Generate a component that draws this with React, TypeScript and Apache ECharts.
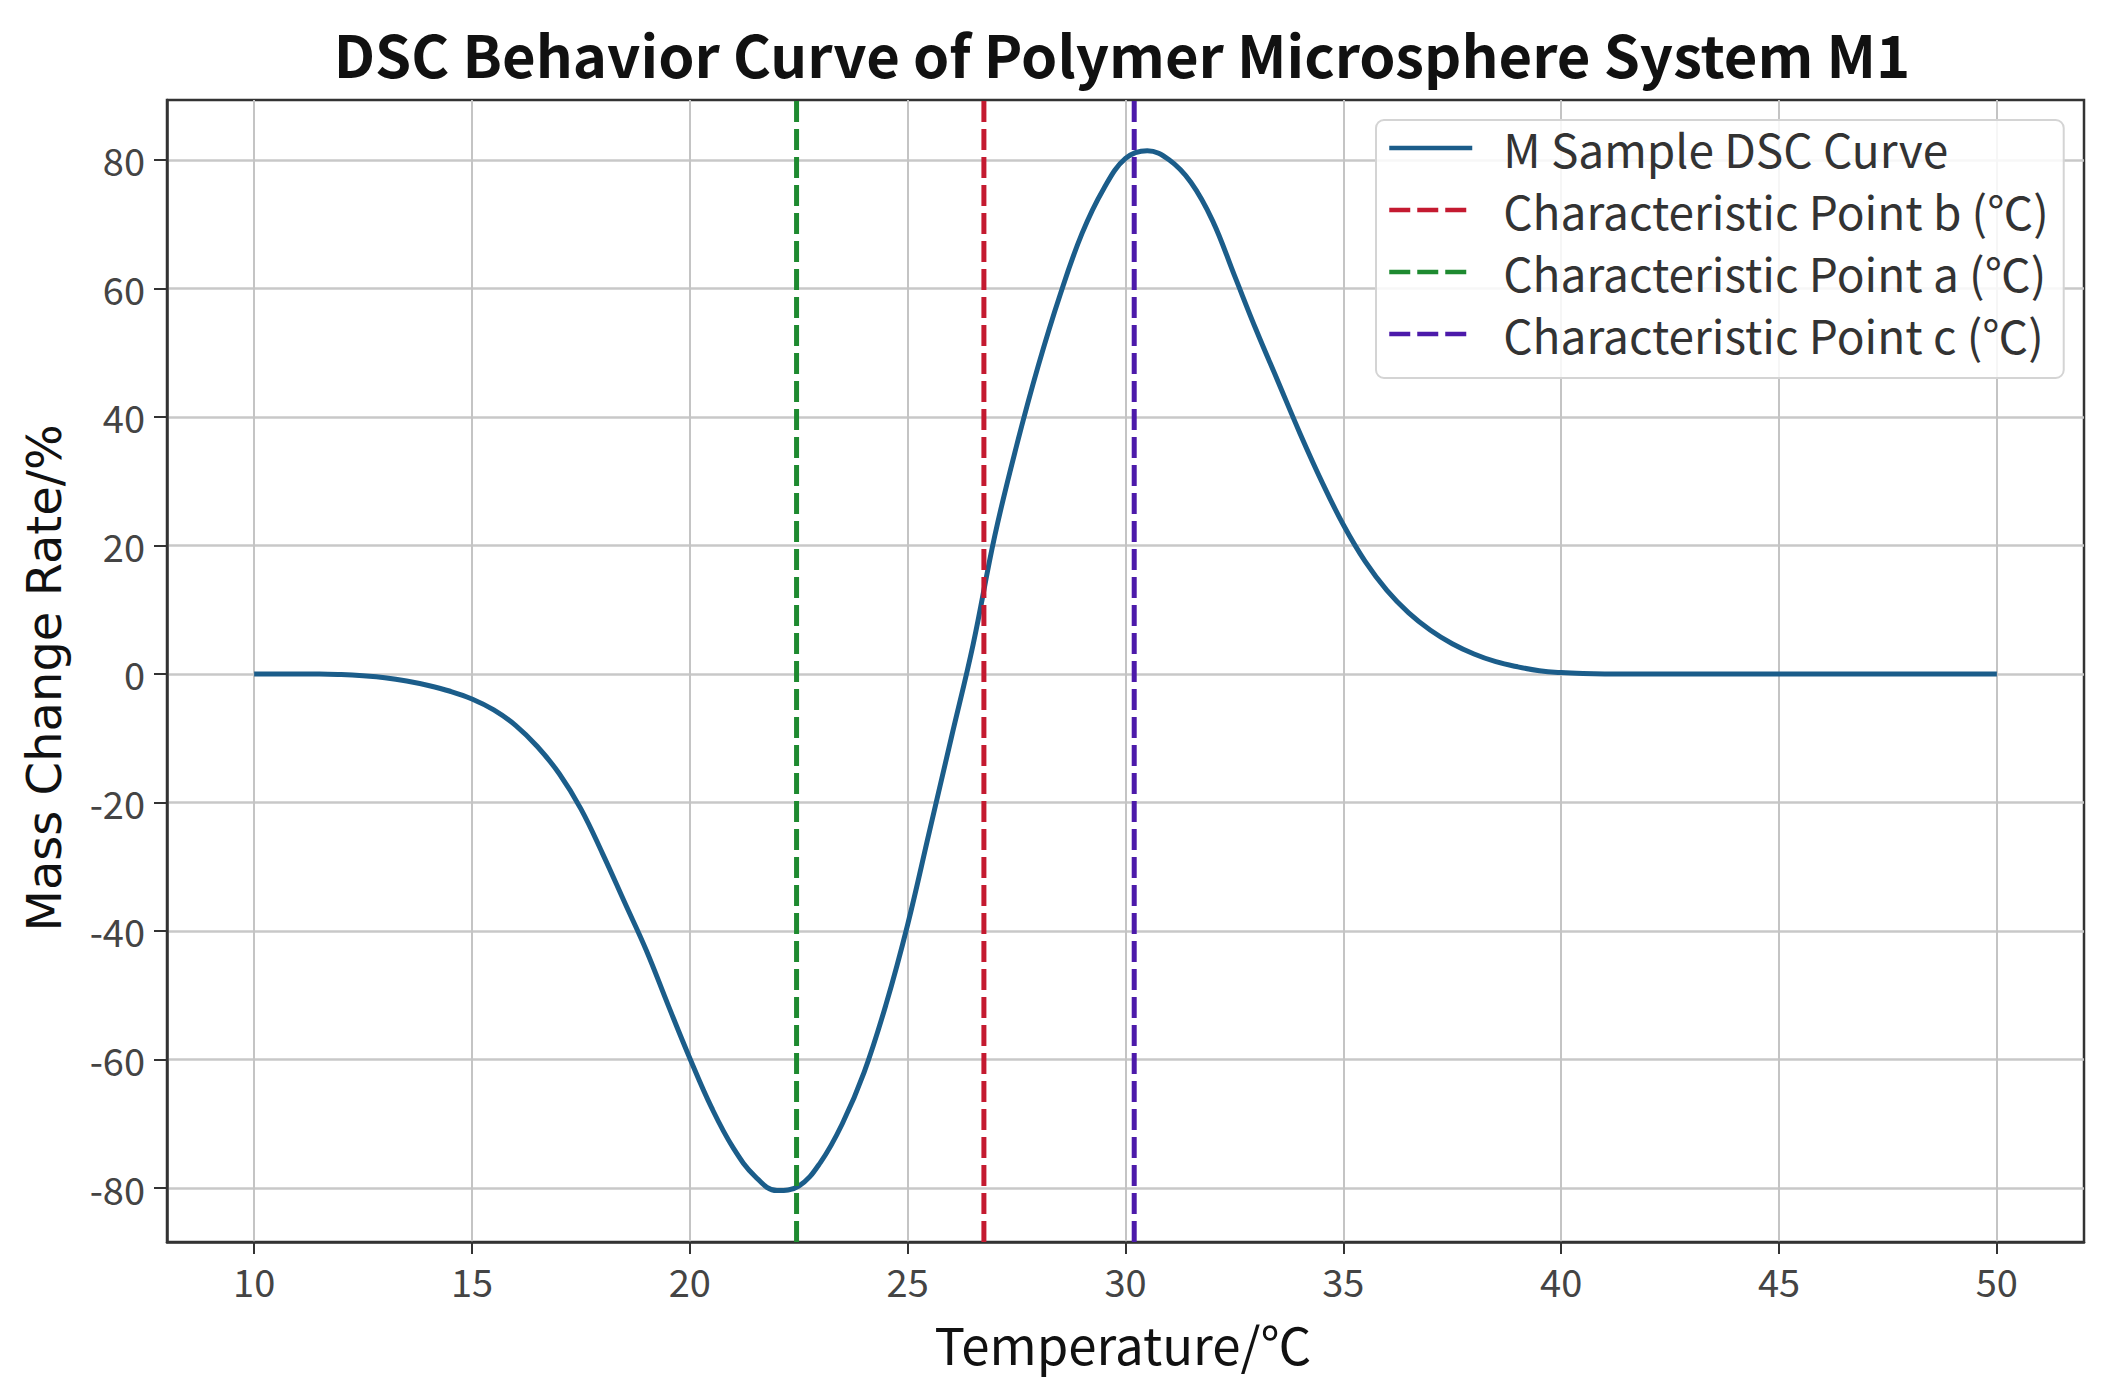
import React, { useEffect, useRef } from "react";
import * as echarts from "echarts";

// ---- data ----
const temperature = [
  10, 10.5, 11, 11.5, 12, 12.5, 13, 13.5, 14, 14.5, 15, 15.5, 16, 16.5, 17, 17.5,
  18, 18.5, 19, 19.5, 20, 20.5, 21, 21.5, 22, 22.5, 23, 23.5, 24, 24.5, 25,
  25.5, 26, 26.5, 27, 27.5, 28, 28.5, 29, 29.5, 30, 30.5, 31, 31.5, 32, 32.5, 33,
  33.5, 34, 34.5, 35, 35.5, 36, 36.5, 37, 37.5, 38, 38.5, 39, 39.5, 40, 40.5, 41,
  41.5, 42, 43, 44, 45, 46, 47, 48, 49, 50,
];
const massChange = [
  0, 0, 0, 0, -0.1, -0.3, -0.6, -1.1, -1.8, -2.7, -3.9, -5.6, -8.0, -11.3, -15.5, -21,
  -28, -35.5, -43, -51.5, -59.8, -67.5, -73.8, -78.2, -80.4, -79.7, -76, -70, -62, -51.5, -39,
  -24.5, -10, 4.5, 21.5, 35.5, 48, 59, 68.5, 75.5, 80.2, 81.4, 80, 76.5, 70.5, 62, 53.5,
  45.5, 37.5, 30, 23.2, 17.5, 13, 9.5, 6.8, 4.7, 3.1, 1.9, 1.1, 0.5, 0.2, 0.05, 0,
  0, 0, 0, 0, 0, 0, 0, 0, 0, 0,
];
const pointA = 22.45;
const pointB = 26.75;
const pointC = 30.2;
const xTicks = [10, 15, 20, 25, 30, 35, 40, 45, 50];
const yTicks = [-80, -60, -40, -20, 0, 20, 40, 60, 80];
const X_MIN = 8;
const X_MAX = 52;
const Y_MIN = -88.4;
const Y_MAX = 89.3;

const seriesNames = [
  "M Sample DSC Curve",
  "Characteristic Point b (℃)",
  "Characteristic Point a (℃)",
  "Characteristic Point c (℃)",
];
const titleText = "DSC Behavior Curve of Polymer Microsphere System M1";
const xName = "Temperature/℃";
const yName = "Mass Change Rate/%";

const FONT = '"Noto Sans CJK SC", "Noto Sans", sans-serif';

export default function App() {
  const ref = useRef<HTMLDivElement>(null);

  useEffect(() => {
    if (!ref.current) return;
    const chart = echarts.init(ref.current, undefined, { renderer: "svg" });

    const curveData = temperature.map((t, i) => [t, massChange[i]]);
    const vline = (x: number) => [
      [x, Y_MIN],
      [x, Y_MAX],
    ];
    const dash = [21, 7];

    const option: any = {
      animation: false,
      backgroundColor: "#ffffff",
      graphic: [
        {
          type: "text",
          x: 1122,
          y: 53,
          style: {
            text: titleText,
            fontSize: 58,
            fontWeight: "bold",
            fontFamily: FONT,
            fill: "#111111",
            align: "center",
            verticalAlign: "middle",
          },
        },
        {
          type: "text",
          x: 1123,
          y: 1343,
          style: {
            text: xName,
            fontSize: 51,
            lineHeight: 46,
            fontFamily: FONT,
            fill: "#111111",
            align: "center",
            verticalAlign: "middle",
          },
        },
        {
          type: "text",
          x: 44,
          y: 678,
          rotation: Math.PI / 2,
          style: {
            text: yName,
            fontSize: 48,
            fontFamily: '"DejaVu Sans", sans-serif',
            fill: "#111111",
            align: "center",
            verticalAlign: "middle",
          },
        },
      ],
      grid: {
        left: 167,
        right: 31,
        top: 100,
        bottom: 144,
        show: true,
        borderColor: "#333333",
        borderWidth: 2.5,
        backgroundColor: "transparent",
      },
      legend: {
        orient: "vertical",
        left: 1376,
        top: 120,
        padding: [5, 15, 21, 11],
        itemGap: 16,
        itemWidth: 83,
        itemHeight: 20,
        backgroundColor: "rgba(255,255,255,0.85)",
        borderColor: "#d4d4d4",
        borderWidth: 2,
        borderRadius: 8,
        itemStyle: { opacity: 0, borderWidth: 0 },
        textStyle: {
          fontSize: 46,
          lineHeight: 46,
          color: "#333333",
          fontFamily: FONT,
          padding: [0, 0, 0, 26],
        },
        lineStyle: { width: 4.5 },
        data: seriesNames,
      },
      xAxis: {
        type: "value",
        min: X_MIN,
        max: X_MAX,
        axisLine: { show: true, onZero: false, lineStyle: { color: "#333333", width: 2.5 } },
        axisTick: {
          show: true,
          customValues: xTicks,
          length: 12,
          lineStyle: { color: "#333333", width: 2 },
        },
        axisLabel: {
          customValues: xTicks,
          margin: 20,
          fontSize: 38,
          lineHeight: 36,
          color: "#444444",
          fontFamily: FONT,
        },
        splitLine: { show: true, lineStyle: { color: "#c4c4c4", width: 2 } },
      },
      yAxis: {
        type: "value",
        min: Y_MIN,
        max: Y_MAX,
        axisLine: { show: true, onZero: false, lineStyle: { color: "#333333", width: 2.5 } },
        axisTick: {
          show: true,
          customValues: yTicks,
          length: 13,
          lineStyle: { color: "#333333", width: 2 },
        },
        axisLabel: {
          customValues: yTicks,
          margin: 22,
          fontSize: 38,
          color: "#444444",
          fontFamily: FONT,
        },
        splitLine: { show: true, lineStyle: { color: "#c8c8c8", width: 2.5 } },
      },
      series: [
        {
          name: seriesNames[0],
          type: "line",
          data: curveData,
          symbol: "none",
          smooth: 0.4,
          lineStyle: { color: "#1b5d8a", width: 5 },
          itemStyle: { color: "#1b5d8a" },
          z: 3,
        },
        {
          name: seriesNames[1],
          type: "line",
          data: vline(pointB),
          symbol: "none",
          lineStyle: { color: "#c41a30", width: 5, type: dash },
          itemStyle: { color: "#c41a30" },
          z: 4,
        },
        {
          name: seriesNames[2],
          type: "line",
          data: vline(pointA),
          symbol: "none",
          lineStyle: { color: "#1e8a30", width: 5, type: dash },
          itemStyle: { color: "#1e8a30" },
          z: 4,
        },
        {
          name: seriesNames[3],
          type: "line",
          data: vline(pointC),
          symbol: "none",
          lineStyle: { color: "#4c1aaa", width: 5, type: dash },
          itemStyle: { color: "#4c1aaa" },
          z: 4,
        },
      ],
    };

    chart.setOption(option);
    return () => {
      chart.dispose();
    };
  }, []);

  return (
    <div
      ref={ref}
      style={{
        position: "fixed",
        left: 0,
        top: 0,
        width: 2115,
        height: 1386,
        background: "#ffffff",
      }}
    />
  );
}
